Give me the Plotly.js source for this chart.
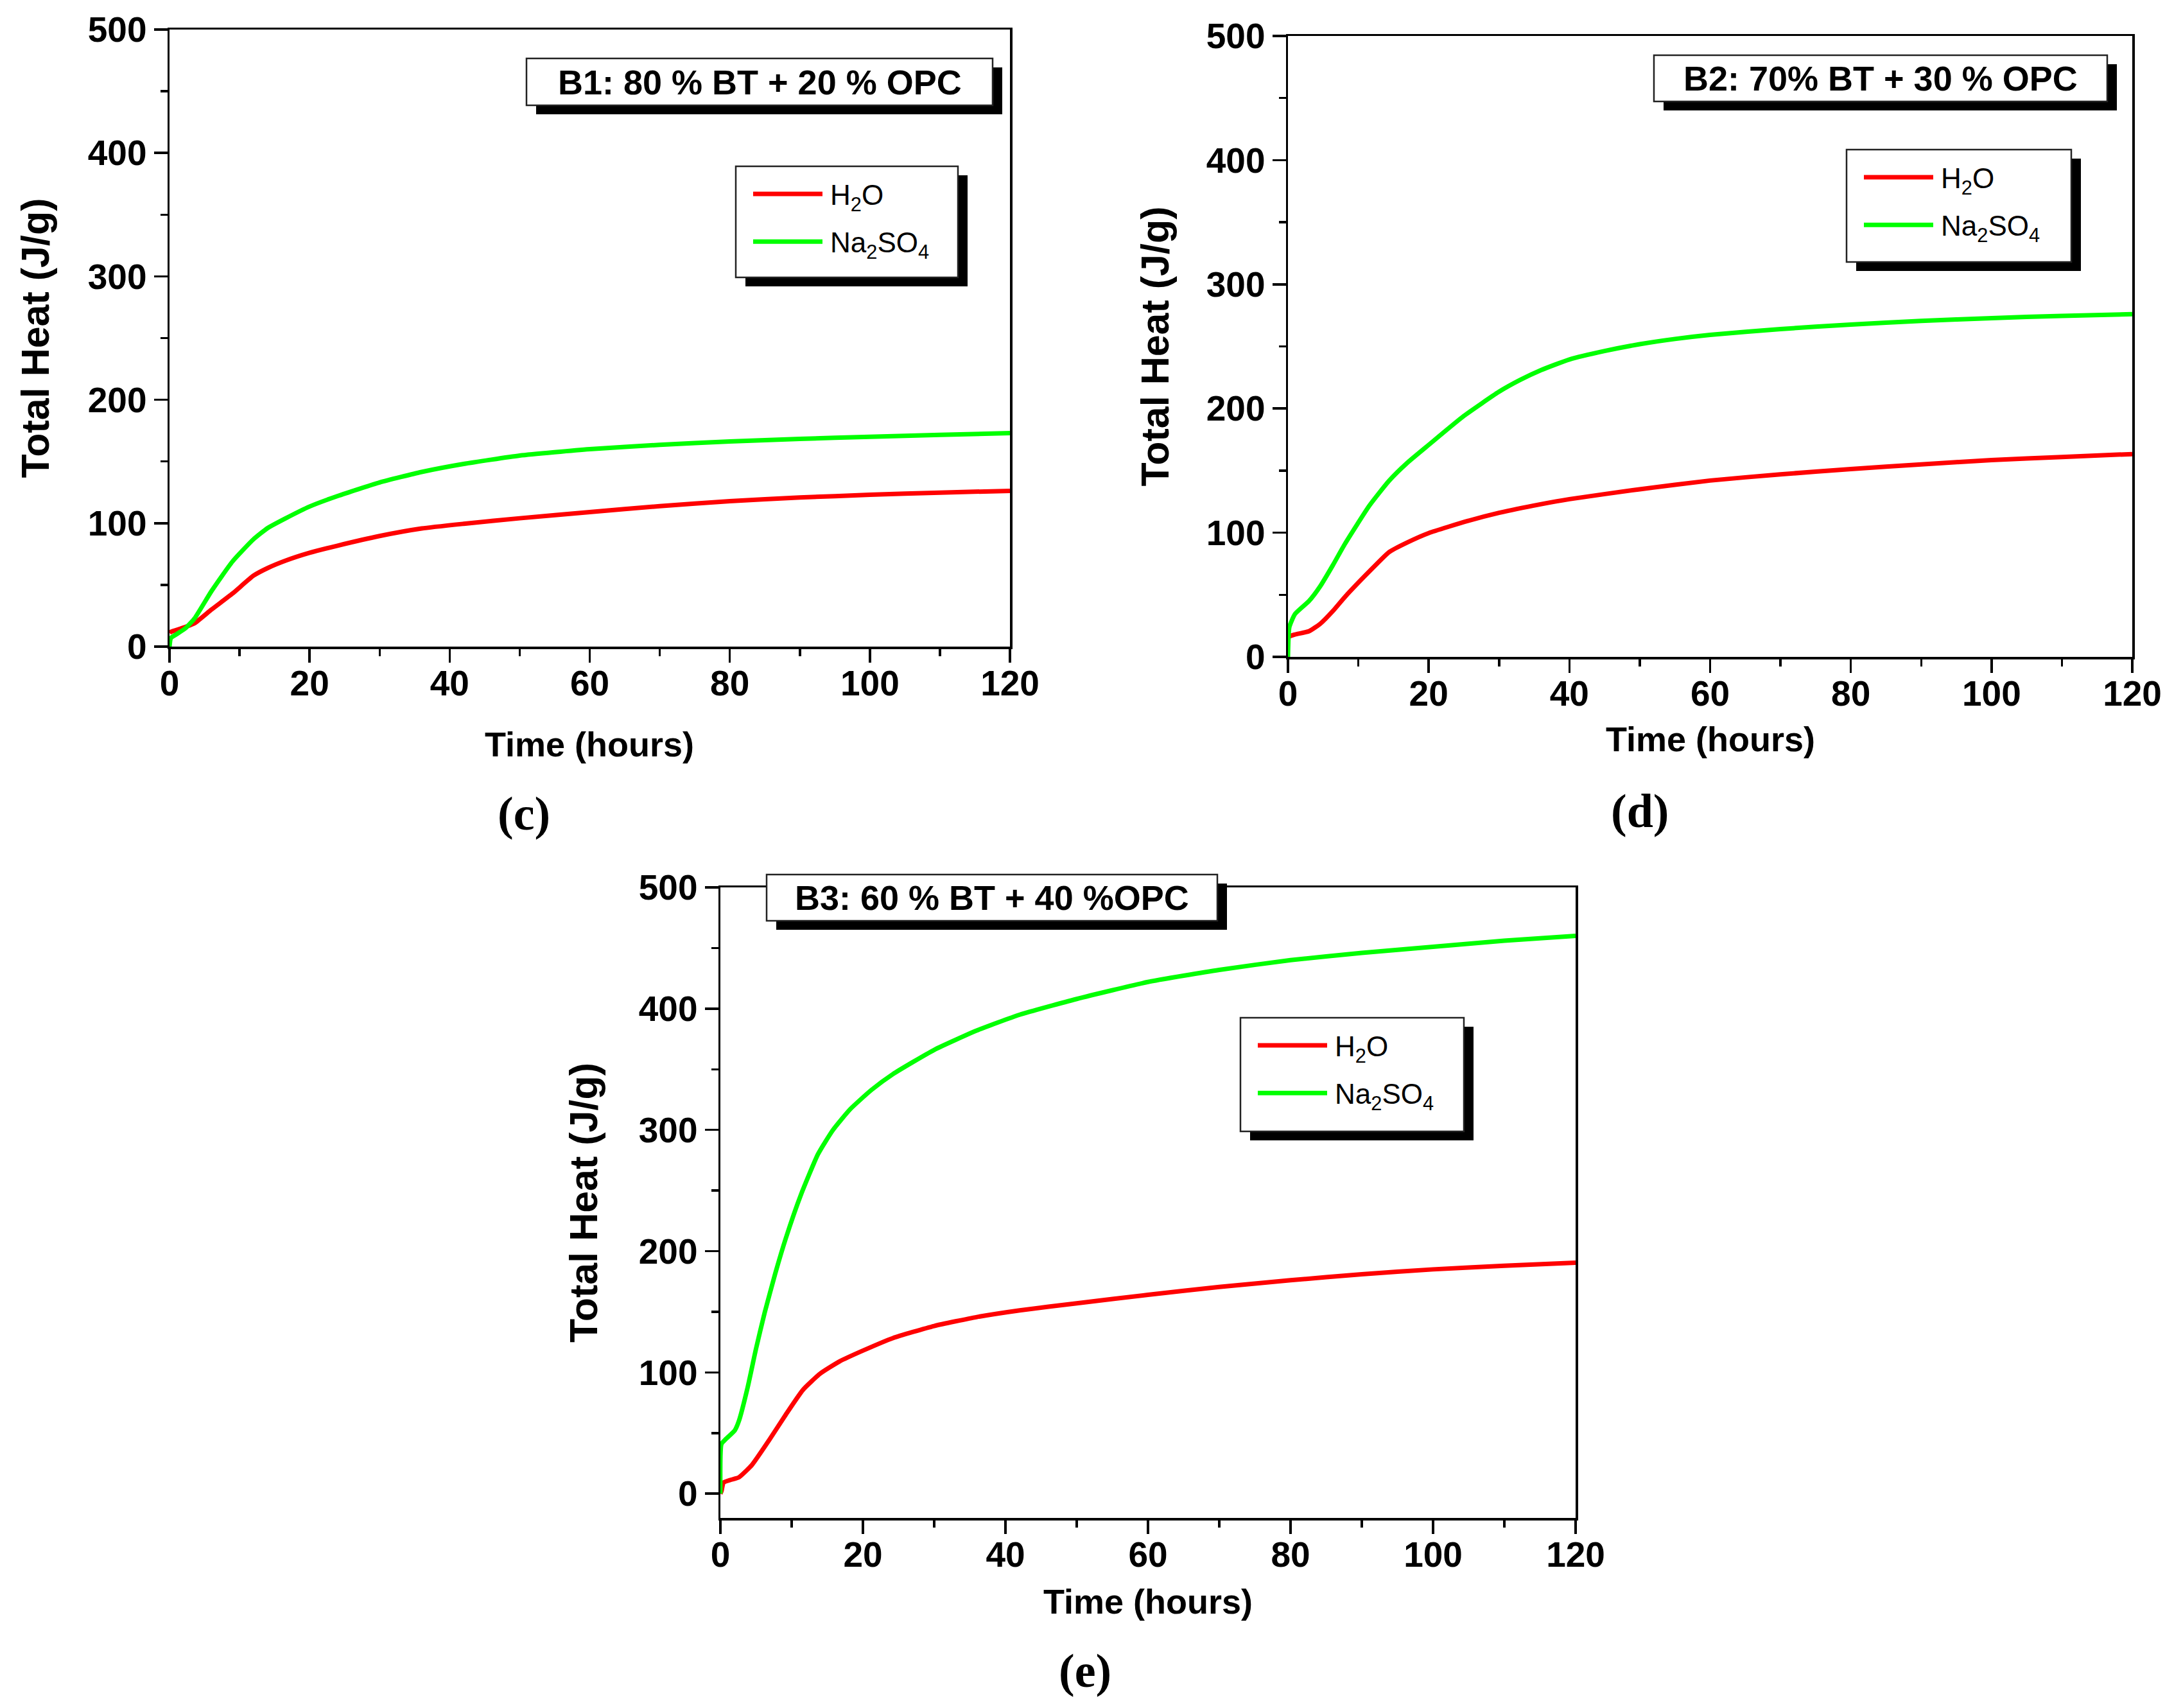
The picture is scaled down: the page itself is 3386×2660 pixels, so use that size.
<!DOCTYPE html>
<html>
<head>
<meta charset="utf-8">
<script src="https://cdn.plot.ly/plotly-3.0.1.min.js"></script>
<style>
  html, body { margin: 0; padding: 0; background: #fff; }
  #chart { width: 3386px; height: 2660px; }
</style>
</head>
<body>
<div id="chart"></div>
<script>
// --- data (time in hours, total heat in J/g) ---
const seriesNames = ["H<sub>2</sub>O", "Na<sub>2</sub>SO<sub>4</sub>"];
const panelTitles = ["B1: 80 % BT + 20 % OPC", "B2: 70% BT + 30 % OPC", "B3: 60 % BT + 40 %OPC"];
const panelLetters = ["(c)", "(d)", "(e)"];
const xTickVals = [0, 20, 40, 60, 80, 100, 120];
const yTickVals = [0, 100, 200, 300, 400, 500];

// B1
const timeB1H2O = [0, 0.2, 1, 2.3, 3.6, 6, 9, 12, 14, 16.6, 20, 24, 30, 36, 42, 50, 60, 70, 80, 90, 100, 110, 120];
const heatB1H2O = [11, 12, 13.5, 16, 19, 30, 43, 57.5, 63.6, 69.7, 76, 81.8, 89.6, 95.7, 99.5, 104, 109, 113.8, 117.8, 120.8, 123, 124.8, 126.2];
const timeB1Na = [0, 0.2, 1, 2.3, 3.6, 6, 9, 12, 14, 16.6, 20, 24, 30, 36, 42, 50, 60, 70, 80, 90, 100, 110, 120];
const heatB1Na = [0, 7, 10, 15, 23, 45, 69, 87, 96, 104, 113.5, 122, 133, 141.5, 148, 154.8, 160, 163.5, 166.2, 168.3, 170, 171.6, 173];

// B2
const timeB2H2O = [0, 0.2, 1, 3, 4.6, 6.4, 8.1, 11.6, 14.4, 16.9, 20, 25.6, 30, 36, 40, 50, 60, 70, 80, 90, 100, 110, 120];
const heatB2H2O = [15, 16.4, 18, 20.7, 26.7, 37, 48.3, 69, 84.5, 92, 99.7, 109.5, 116, 123, 127, 135, 142, 147, 151.2, 155, 158.5, 161, 163.3];
const timeB2Na = [0, 0.2, 1, 3, 4.6, 6.4, 8.1, 11.6, 14.4, 16.9, 20, 25, 30, 33, 36, 40, 45, 50, 55, 60, 70, 80, 90, 100, 110, 120];
const heatB2Na = [0, 24, 34.5, 45, 57, 74, 91, 122, 142, 156, 170.7, 194, 213.5, 223, 231, 239.5, 246.3, 251.8, 256, 259.3, 264, 267.6, 270.5, 272.8, 274.6, 276];

// B3
const timeB3H2O = [0, 0.15, 0.45, 1.5, 2.6, 4.4, 6.8, 9.2, 11.6, 14, 16.7, 20, 24.2, 30, 36, 42, 50, 60, 70, 80, 90, 100, 110, 120];
const heatB3H2O = [0, 2, 9.2, 11.5, 13.5, 23.5, 43.8, 65.4, 85.7, 99, 109, 118, 128.3, 138.3, 145.7, 151.2, 157, 164, 170.5, 176, 181, 185, 188, 190.5];
const timeB3Na = [0, 0.15, 0.75, 2, 2.6, 3.8, 5, 6.2, 7.7, 9.2, 11.3, 13.7, 15.8, 18.2, 21.2, 24.2, 30, 36, 42, 50, 60, 70, 80, 90, 100, 110, 120];
const heatB3Na = [0, 41, 45, 52, 60, 87, 119.5, 149, 181.6, 211, 246.5, 280, 300, 317, 333, 346, 366, 382, 395, 408, 422, 432, 440, 446, 451, 456, 460];

// --- page geometry (pixels of the 3386 x 2660 figure) ---
const W = 3386, H = 2660;
const px = v => v / W;
const py = v => 1 - v / H;

const sans = "'Liberation Sans', Arial, sans-serif";
const serif = "'Liberation Serif', 'DejaVu Serif', serif";

// plot boxes: left, right, top, bottom (px) and y range
const panels = [
    { l: 264, r: 1573, t: 46, b: 1007, yr: [0, 500],
      box: [820, 1546, 91, 164], leg: [1146, 1492, 259, 432],
      ytx: 54, xty: 1159, let: [816, 1267] },
    { l: 2006, r: 3321, t: 56, b: 1023, yr: [0, 500],
      box: [2576, 3282, 86, 158], leg: [2876, 3226, 233, 408],
      ytx: 1798, xty: 1151, let: [2554, 1263] },
    { l: 1122, r: 2454, t: 1382, b: 2364, yr: [-20, 500],
      box: [1194, 1896, 1362, 1434], leg: [1932, 2280, 1585, 1762],
      ytx: 909, xty: 2494, let: [1690, 2602] }
];

function makeAxis(domain, range, ticks, minorStep, standoff) {
    return {
        domain: domain, range: range, tickvals: ticks,
        ticks: 'outside', ticklen: 21, tickwidth: 3.5, tickcolor: '#000',
        showline: true, linewidth: 3.5, linecolor: '#000', mirror: true,
        showgrid: false, zeroline: false, fixedrange: true,
        ticklabelstandoff: standoff,
        tickfont: { family: sans, size: 55, color: '#000', weight: 'bold' },
        minor: { dtick: minorStep, tick0: 0, ticks: 'outside', ticklen: 11, tickwidth: 3.5, tickcolor: '#000', showgrid: false }
    };
}

const seriesData = [
    [[timeB1H2O, heatB1H2O], [timeB1Na, heatB1Na]],
    [[timeB2H2O, heatB2H2O], [timeB2Na, heatB2Na]],
    [[timeB3H2O, heatB3H2O], [timeB3Na, heatB3Na]]
];
const colors = ['#ff0000', '#00ff00'];

const traces = [];
const layout = {
    width: W, height: H,
    margin: { l: 0, r: 0, t: 0, b: 0 },
    paper_bgcolor: '#fff', plot_bgcolor: '#fff',
    shapes: [], annotations: []
};

function note(text, x, y, font, extra) {
    return Object.assign({ text: text, xref: 'paper', yref: 'paper', x: px(x), y: py(y),
        xanchor: 'center', yanchor: 'middle', showarrow: false, font: font }, extra || {});
}

panels.forEach((p, i) => {
    const n = i === 0 ? '' : String(i + 1);
    layout['xaxis' + n] = makeAxis([px(p.l), px(p.r)], [0, 120], xTickVals, 10, -15);
    layout['yaxis' + n] = makeAxis([py(p.b), py(p.t)], p.yr, yTickVals, 50, 0);
    layout['xaxis' + n].anchor = 'y' + n;
    layout['yaxis' + n].anchor = 'x' + n;

    seriesData[i].forEach((s, j) => {
        traces.push({
            x: s[0], y: s[1], type: 'scatter', mode: 'lines',
            name: seriesNames[j], xaxis: 'x' + n, yaxis: 'y' + n,
            legend: 'legend' + n, legendgroup: 'g' + i + j,
            line: { color: colors[j], width: 7, shape: 'spline', smoothing: 0.5 },
            hoverinfo: 'skip'
        });
    });

    // boxes with a drop shadow: the sample label and the legend frame
    [p.box, p.leg].forEach(b => {
        layout.shapes.push({ type: 'rect', xref: 'paper', yref: 'paper',
            x0: px(b[0] + 15), x1: px(b[1] + 15), y0: py(b[3] + 14), y1: py(b[2] + 14),
            fillcolor: '#000', line: { width: 0 }, layer: 'above' });
        layout.shapes.push({ type: 'rect', xref: 'paper', yref: 'paper',
            x0: px(b[0]), x1: px(b[1]), y0: py(b[3]), y1: py(b[2]),
            fillcolor: '#fff', line: { color: '#222', width: 2.5 }, layer: 'above' });
    });

    layout['legend' + n] = {
        x: px(p.leg[0] + 22), y: py(p.leg[2] + 8), xanchor: 'left', yanchor: 'top',
        bgcolor: 'rgba(0,0,0,0)', borderwidth: 0, itemwidth: 115,
        font: { family: sans, size: 44, color: '#000' }, tracegroupgap: 14
    };

    layout.annotations.push(
        note('<b>' + panelTitles[i] + '</b>', (p.box[0] + p.box[1]) / 2, (p.box[2] + p.box[3]) / 2,
             { family: sans, size: 54, color: '#000' }),
        note('<b>Total Heat (J/g)</b>', p.ytx, (p.t + p.b) / 2,
             { family: sans, size: 61, color: '#000' }, { textangle: -90 }),
        note('<b>Time (hours)</b>', (p.l + p.r) / 2, p.xty,
             { family: sans, size: 54, color: '#000' }),
        note('<b>' + panelLetters[i] + '</b>', p.let[0], p.let[1],
             { family: serif, size: 74, color: '#000' })
    );
});

Plotly.newPlot('chart', traces, layout, { staticPlot: true }).then(() => {
    // longer legend line samples, like the original figure
    document.querySelectorAll('.legendlines path').forEach(el => el.setAttribute('d', 'M5,0h108'));
});
</script>
</body>
</html>
